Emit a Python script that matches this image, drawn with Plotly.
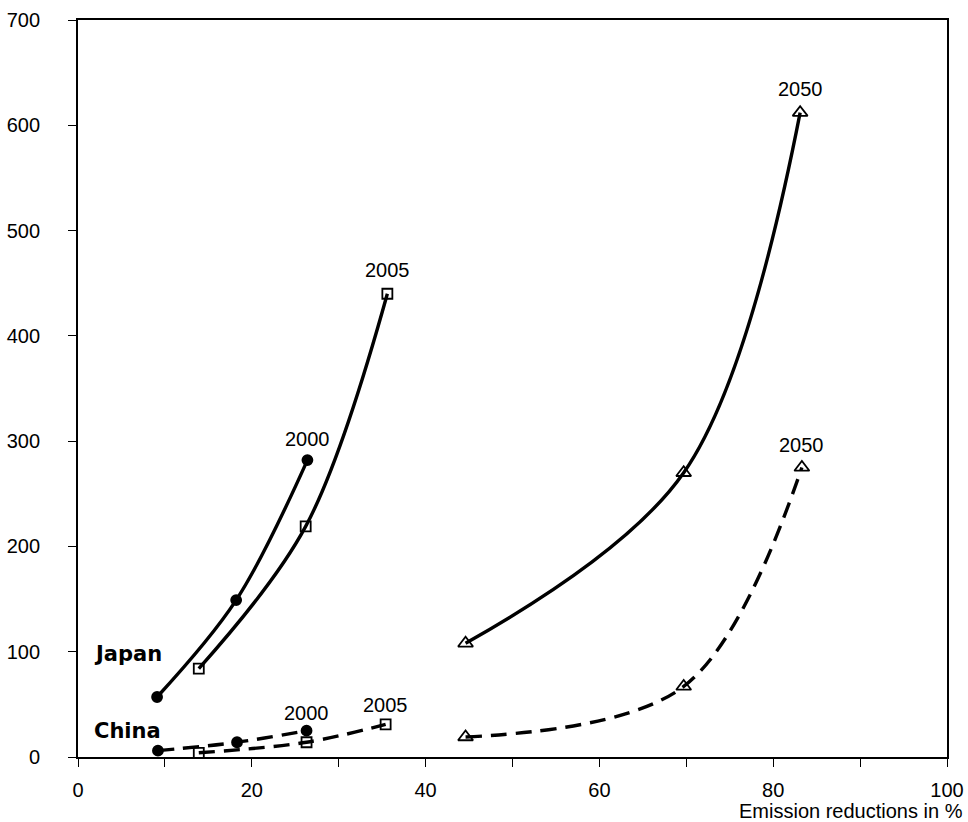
import plotly.graph_objects as go

# Japan (solid lines)
japan_2000_x = [9.1, 18.2, 26.4]
japan_2000_y = [57, 149, 282]
japan_2005_x = [13.9, 26.2, 35.6]
japan_2005_y = [84, 219, 440]
japan_2050_x = [44.6, 69.7, 83.1]
japan_2050_y = [108, 270, 612]

# China (dashed lines)
china_2000_x = [9.2, 18.3, 26.3]
china_2000_y = [6, 14, 25]
china_2005_x = [13.9, 26.3, 35.4]
china_2005_y = [4, 14, 31]
china_2050_x = [44.6, 69.7, 83.3]
china_2050_y = [19, 67, 275]

x_ticks = [0, 20, 40, 60, 80, 100]
y_ticks = [0, 100, 200, 300, 400, 500, 600, 700]

fig = go.Figure()

def add(x, y, dash, symbol, size):
    fig.add_trace(go.Scatter(
        x=x, y=y, mode="lines+markers",
        line=dict(color="black", width=3.4, shape="spline", dash=dash),
        marker=dict(symbol=symbol, size=size, color="black",
                    line=dict(color="black", width=1.8)),
        showlegend=False, hoverinfo="skip"))

add(japan_2000_x, japan_2000_y, "solid", "circle", 10)
add(japan_2005_x, japan_2005_y, "solid", "square-open", 10)
add(japan_2050_x, japan_2050_y, "solid", "triangle-up-open", 13)
add(china_2000_x, china_2000_y, "16px,9px", "circle", 10)
add(china_2005_x, china_2005_y, "16px,9px", "square-open", 10)
add(china_2050_x, china_2050_y, "16px,9px", "triangle-up-open", 13)

label_font = dict(family="Liberation Sans, Arial", size=20, color="black")

year_labels = [
    (japan_2000_x[-1], japan_2000_y[-1], "2000", 21),
    (japan_2005_x[-1], japan_2005_y[-1], "2005", 24),
    (japan_2050_x[-1], japan_2050_y[-1], "2050", 24),
    (china_2000_x[-1], china_2000_y[-1], "2000", 18),
    (china_2005_x[-1], china_2005_y[-1], "2005", 19),
    (china_2050_x[-1], china_2050_y[-1], "2050", 22),
]
for x, y, t, s in year_labels:
    fig.add_annotation(x=x, y=y, text=t, showarrow=False, yshift=s,
                       font=label_font)

name_font = dict(family="DejaVu Sans", size=21, color="black", weight="bold")
fig.add_annotation(x=1.6, y=98, text="Japan", showarrow=False,
                   xanchor="left", font=name_font)
fig.add_annotation(x=1.6, y=25, text="China", showarrow=False,
                   xanchor="left", font=name_font)

fig.add_annotation(xref="paper", yref="paper", x=1.021, y=-0.0735,
                   text="Emission reductions in %", showarrow=False,
                   xanchor="right", yanchor="middle",
                   font=dict(family="Liberation Sans, Arial", size=20, color="black"))

axis_common = dict(showline=True, linecolor="black", linewidth=1.8, mirror=True,
                   ticks="outside", ticklen=8, tickwidth=1.4, tickcolor="black",
                   showgrid=False, zeroline=False, automargin=False,
                   tickfont=dict(family="Liberation Sans, Arial", size=20, color="black"))

fig.update_xaxes(range=[0, 100], tickvals=x_ticks, ticklabelstandoff=6,
                 minor=dict(ticks="outside", tickvals=[10, 30, 50, 70, 90],
                            ticklen=8, tickwidth=1.4, tickcolor="black"),
                 **axis_common)
fig.update_yaxes(range=[0, 700], tickvals=y_ticks, ticklabelstandoff=24,
                 **axis_common)

fig.update_layout(width=968, height=822,
                  margin=dict(l=78, r=21, t=20, b=65),
                  paper_bgcolor="white", plot_bgcolor="white")

fig.write_html("out.html", config={"displayModeBar": False},
               post_script="document.body.style.margin='0';document.body.style.overflow='hidden';")
